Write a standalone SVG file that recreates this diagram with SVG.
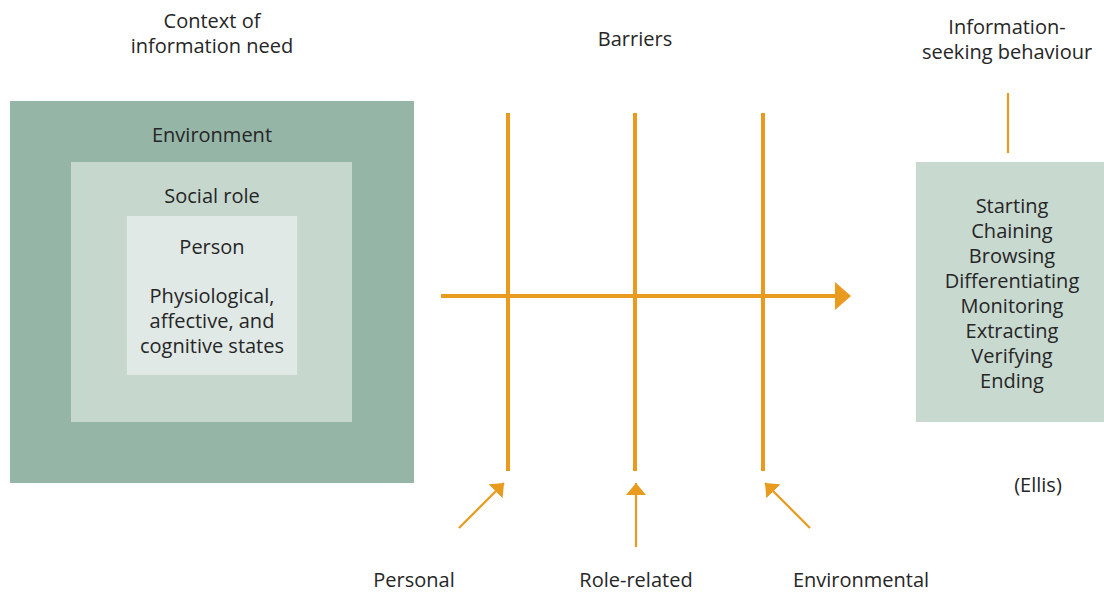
<svg xmlns="http://www.w3.org/2000/svg" width="1104" height="592" viewBox="0 0 1104 592">
  <style>
    .t { font-family: "Open Sans", "Noto Sans", "Liberation Sans", sans-serif; font-size: 20px; fill: #262626; text-anchor: middle; }
    .bar { stroke: #e89b1e; stroke-width: 4; fill: none; }
    .thin { stroke: #e89b1e; stroke-width: 2.2; fill: none; }
    .head { fill: #e89b1e; }
  </style>
  <defs>
    <marker id="tri" viewBox="0 0 12 20" refX="12" refY="10" markerWidth="12" markerHeight="20" markerUnits="userSpaceOnUse" orient="auto">
      <path d="M0,0 L12,10 L0,20 Z" class="head"/>
    </marker>
  </defs>

  <rect width="1104" height="592" fill="#ffffff"/>

  <!-- headings -->
  <g id="heading-context">
    <text class="t" x="212" y="28">Context of</text>
    <text class="t" x="212" y="53">information need</text>
  </g>
  <g id="heading-barriers">
    <text class="t" x="635" y="46">Barriers</text>
  </g>
  <g id="heading-behaviour">
    <text class="t" x="1007" y="34">Information-</text>
    <text class="t" x="1007" y="59">seeking behaviour</text>
  </g>

  <!-- nested context boxes -->
  <g id="environment">
    <rect x="10" y="101" width="404" height="382" fill="#95b5a6"/>
    <text class="t" x="212" y="142">Environment</text>
  </g>
  <g id="social-role">
    <rect x="71" y="162" width="281" height="260" fill="#c6d8ce"/>
    <text class="t" x="212" y="203">Social role</text>
  </g>
  <g id="person">
    <rect x="127" y="216" width="170" height="159" fill="#e0e9e5"/>
    <text class="t" x="212" y="254">Person</text>
    <text class="t" x="212" y="303">Physiological,</text>
    <text class="t" x="212" y="328">affective, and</text>
    <text class="t" x="212" y="353">cognitive states</text>
  </g>

  <!-- Ellis activities -->
  <g id="ellis-activities">
    <rect x="916" y="162" width="188" height="260" fill="#c8d9d0"/>
    <text class="t" x="1012" y="213">Starting</text>
    <text class="t" x="1012" y="238">Chaining</text>
    <text class="t" x="1012" y="263">Browsing</text>
    <text class="t" x="1012" y="288">Differentiating</text>
    <text class="t" x="1012" y="313">Monitoring</text>
    <text class="t" x="1012" y="338">Extracting</text>
    <text class="t" x="1012" y="363">Verifying</text>
    <text class="t" x="1012" y="388">Ending</text>
  </g>
  <g id="ellis-credit">
    <text class="t" x="1038" y="492">(Ellis)</text>
  </g>

  <!-- barrier type labels -->
  <g id="label-personal"><text class="t" x="414" y="587">Personal</text></g>
  <g id="label-role"><text class="t" x="636" y="587">Role-related</text></g>
  <g id="label-environmental"><text class="t" x="861" y="587">Environmental</text></g>

  <!-- connectors -->
  <g id="connectors">
    <line class="thin" x1="1008" y1="93" x2="1008" y2="153" stroke-width="2"/>
    <line class="bar" x1="508" y1="113" x2="508" y2="471"/>
    <line class="bar" x1="635" y1="113" x2="635" y2="471"/>
    <line class="bar" x1="763" y1="113" x2="763" y2="471"/>
    <line class="bar" x1="441" y1="296" x2="836" y2="296"/>
    <path class="head" d="M835,282 L851,296 L835,310 Z"/>
    <line class="thin" x1="459" y1="528" x2="504" y2="483" marker-end="url(#tri)"/>
    <line class="thin" x1="636" y1="547" x2="636" y2="483" marker-end="url(#tri)"/>
    <line class="thin" x1="810" y1="528" x2="765" y2="483" marker-end="url(#tri)"/>
  </g>
</svg>
